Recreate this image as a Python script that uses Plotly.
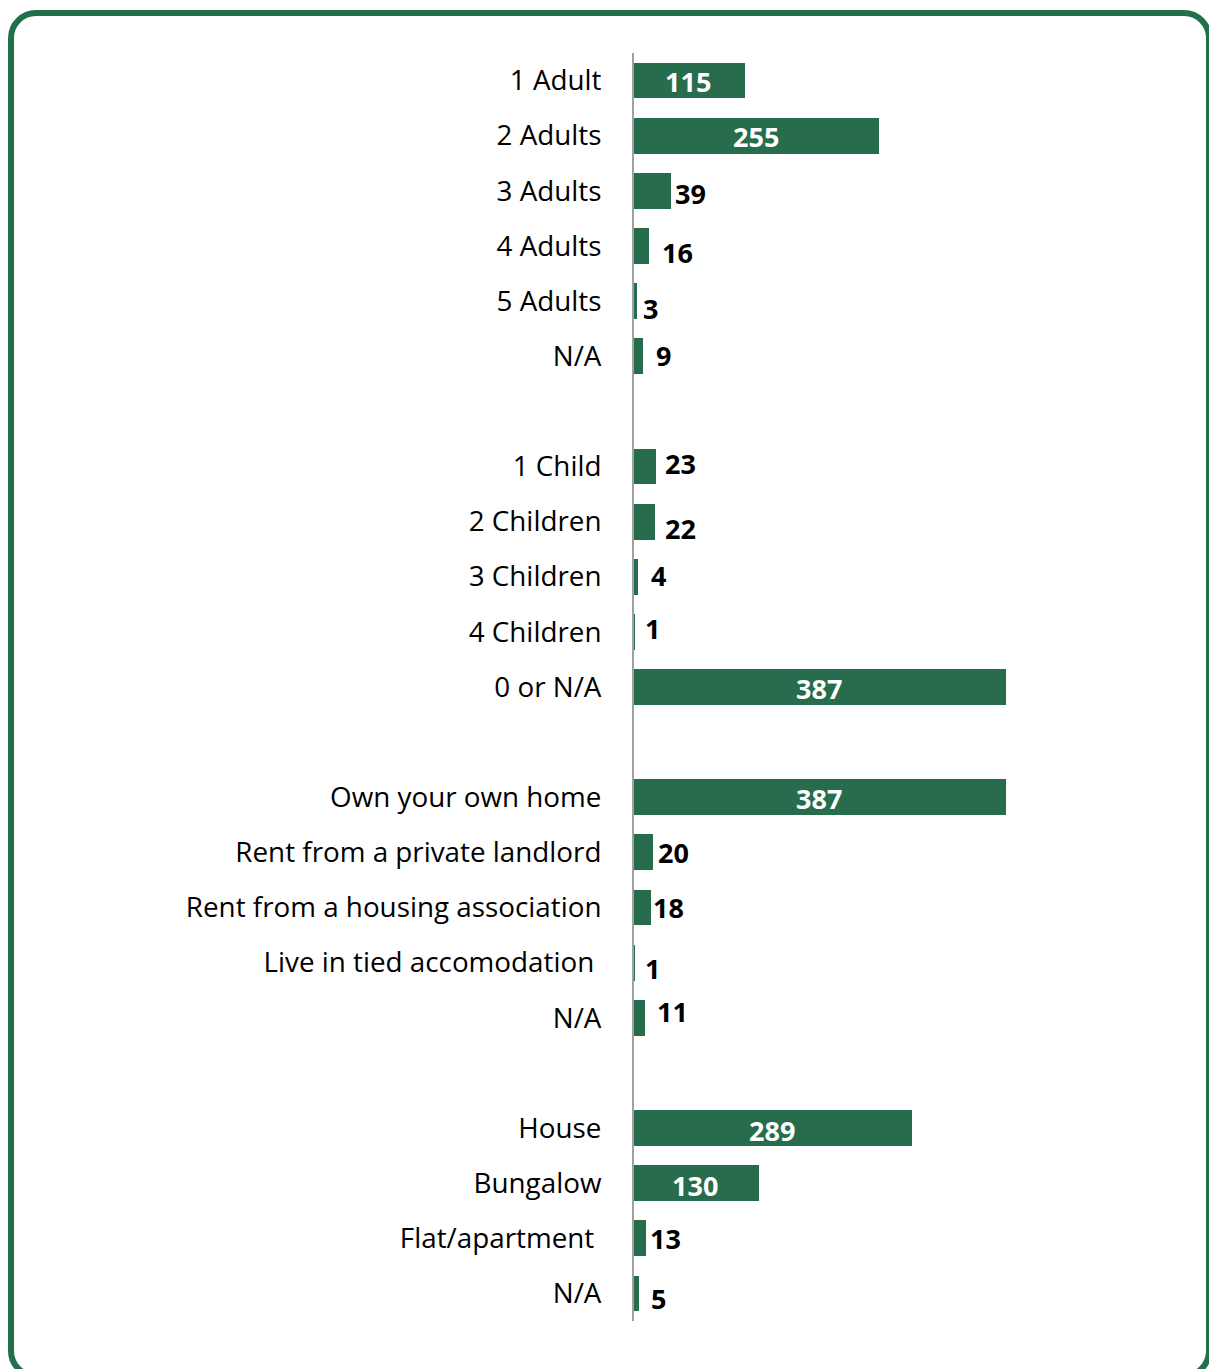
import plotly.graph_objects as go

# ---- data ----
adult_labels = ["1 Adult", "2 Adults", "3 Adults", "4 Adults", "5 Adults", "N/A"]
adult_values = [115, 255, 39, 16, 3, 9]
child_labels = ["1 Child", "2 Children", "3 Children", "4 Children", "0 or N/A"]
child_values = [23, 22, 4, 1, 387]
tenure_labels = ["Own your own home", "Rent from a private landlord",
                 "Rent from a housing association", "Live in tied accomodation\u00a0", "N/A"]
tenure_values = [387, 20, 18, 1, 11]
type_labels = ["House", "Bungalow", "Flat/apartment\u00a0", "N/A"]
type_values = [289, 130, 13, 5]

groups = [(adult_labels, adult_values), (child_labels, child_values),
          (tenure_labels, tenure_values), (type_labels, type_values)]

# label nudges in pixels (dx right, dy down) for labels outside bars, in category order
label_nudges = [(-1, 1), (-1, 1), (2, 3), (11, 7), (4, 7), (11, -1),
                (7, -3), (8, 7), (11, -1), (8, -3), (-1, 1),
                (-1, 1), (3, 0), (0, 0), (8, 6), (10, -6),
                (-1, 2), (-1, 2), (2, 0), (10, 5)]

BAR = "#286C4E"
BORDER = "#22704B"
FONT = "Open Sans"

labels, values, pos = [], [], []
p = 0
for gi, (lab, val) in enumerate(groups):
    for l, v in zip(lab, val):
        labels.append(l)
        values.append(v)
        pos.append(p)
        p += 1
    p += 1  # gap between groups
nslots = pos[-1] + 1

W, H = 1209, 1369
ML, MR, MT, MB = 634, 59, 53, 48
plot_w = W - ML - MR
plot_h = H - MT - MB
xmax = 537

fig = go.Figure()
fig.add_trace(go.Bar(
    x=values, y=pos, orientation="h", width=0.65,
    marker=dict(color=BAR, line=dict(width=0)),
    hoverinfo="skip", showlegend=False,
))

annotations = []
for v, y, (dx, dy) in zip(values, pos, label_nudges):
    inside = v >= 100
    annotations.append(dict(
        x=v / 2 if inside else v, y=y, xref="x", yref="y",
        text=f"<b>{v}</b>", showarrow=False,
        xanchor="center" if inside else "left",
        xshift=dx, yshift=-dy,
        font=dict(family=FONT, size=27, color="white" if inside else "black"),
    ))


def pp(px, py):
    return (px - ML) / plot_w, (H - MB - py) / plot_h


def fmt(px, py):
    a, b = pp(px, py)
    return f"{a:.5f},{b:.5f}"


L, T, R, B, r = 11, 13, 1209, 1376, 25
k = 0.5523 * r
path = (
    f"M {fmt(L + r, T)} L {fmt(R - r, T)} "
    f"C {fmt(R - r + k, T)} {fmt(R, T + r - k)} {fmt(R, T + r)} "
    f"L {fmt(R, B - r)} "
    f"C {fmt(R, B - r + k)} {fmt(R - r + k, B)} {fmt(R - r, B)} "
    f"L {fmt(L + r, B)} "
    f"C {fmt(L + r - k, B)} {fmt(L, B - r + k)} {fmt(L, B - r)} "
    f"L {fmt(L, T + r)} "
    f"C {fmt(L, T + r - k)} {fmt(L + r - k, T)} {fmt(L + r, T)} Z"
)

fig.update_layout(
    width=W, height=H,
    margin=dict(l=ML, r=MR, t=MT, b=MB),
    paper_bgcolor="white", plot_bgcolor="white",
    bargap=0,
    xaxis=dict(range=[0, xmax], visible=False, fixedrange=True),
    yaxis=dict(
        range=[nslots - 0.5, -0.5],
        tickvals=pos, ticktext=labels,
        showline=True, linecolor="#A0A0A0", linewidth=2,
        ticks="", ticklabelstandoff=25,
        showgrid=False, zeroline=False,
        tickfont=dict(family=FONT, size=27.8, color="black"),
    ),
    annotations=annotations,
    shapes=[dict(type="path", xref="paper", yref="paper", path=path,
                 line=dict(color=BORDER, width=6), fillcolor="rgba(0,0,0,0)",
                 layer="above")],
    font=dict(family=FONT),
)

fig.write_html("out.html")
